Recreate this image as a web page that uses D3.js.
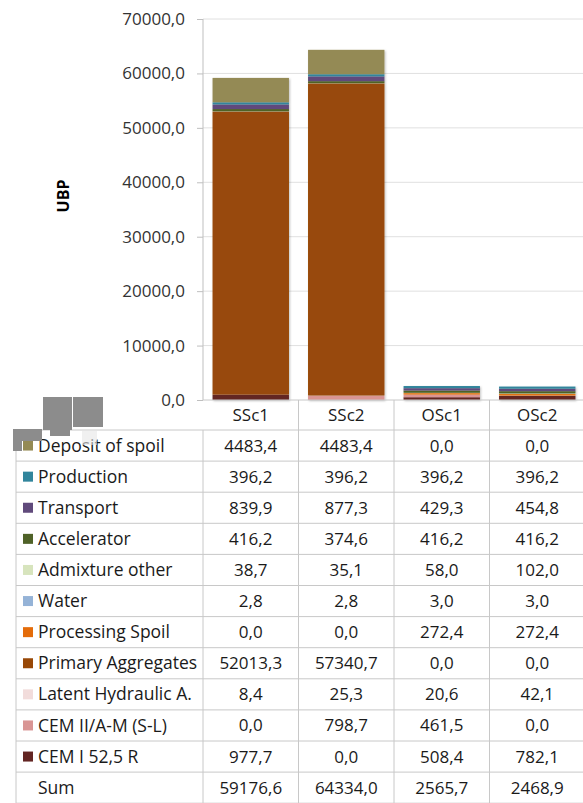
<!DOCTYPE html>
<html>
<head>
<meta charset="utf-8">
<script src="https://cdn.jsdelivr.net/npm/d3@7"></script>
<style>
  body { margin: 0; background: #fff; }
  svg { display: block; font-family: "Open Sans", sans-serif; }
</style>
</head>
<body>
<svg id="chart" width="583" height="803"></svg>
<script>
// scenarios along the x axis
const categories = ["SSc1", "SSc2", "OSc1", "OSc2"];

// series in table order (top of the table = top of the stack)
const seriesNames = [
  "Deposit of spoil", "Production", "Transport", "Accelerator",
  "Admixture other", "Water", "Processing Spoil", "Primary Aggregates",
  "Latent Hydraulic A.", "CEM II/A-M (S-L)", "CEM I 52,5 R"
];
const seriesColors = [
  "#948a54", "#31859c", "#604a7b", "#4f6228",
  "#d7e4bd", "#95b3d7", "#e46c0a", "#984807",
  "#f2dcdb", "#d99594", "#632523"
];

const depositOfSpoil   = [4483.4, 4483.4, 0.0, 0.0];
const production       = [396.2, 396.2, 396.2, 396.2];
const transport        = [839.9, 877.3, 429.3, 454.8];
const accelerator      = [416.2, 374.6, 416.2, 416.2];
const admixtureOther   = [38.7, 35.1, 58.0, 102.0];
const water            = [2.8, 2.8, 3.0, 3.0];
const processingSpoil  = [0.0, 0.0, 272.4, 272.4];
const primaryAggr      = [52013.3, 57340.7, 0.0, 0.0];
const latentHydraulic  = [8.4, 25.3, 20.6, 42.1];
const cem2             = [0.0, 798.7, 461.5, 0.0];
const cem1             = [977.7, 0.0, 508.4, 782.1];
const sums             = [59176.6, 64334.0, 2565.7, 2468.9];

const seriesValues = [
  depositOfSpoil, production, transport, accelerator, admixtureOther, water,
  processingSpoil, primaryAggr, latentHydraulic, cem2, cem1
];

const yTicks = [0, 10000, 20000, 30000, 40000, 50000, 60000, 70000];

const fmt = v => v.toFixed(1).replace(".", ",");

const svg = d3.select("#chart");

const x = d3.scaleBand()
  .domain(categories)
  .range([203, 585])
  .paddingInner(0.2)
  .paddingOuter(0.1);

const y = d3.scaleLinear()
  .domain([0, 70000])
  .range([400, 19]);

// gridlines
svg.append("g")
  .selectAll("line")
  .data(yTicks.slice(1))
  .join("line")
  .attr("x1", 203).attr("x2", 585)
  .attr("y1", d => y(d)).attr("y2", d => y(d))
  .attr("stroke", "#e0e0e0");

// build rows for d3.stack: bottom series first
const stackKeys = seriesNames.slice().reverse();
const rows = categories.map((c, i) => {
  const row = { category: c };
  seriesNames.forEach((s, j) => { row[s] = seriesValues[j][i]; });
  return row;
});
const stacked = d3.stack().keys(stackKeys)(rows);
const color = d3.scaleOrdinal().domain(seriesNames).range(seriesColors);

// soft shadow
const defs = svg.append("defs");
const filt = defs.append("filter").attr("id", "shadow")
  .attr("x", "-10%").attr("y", "-10%").attr("width", "130%").attr("height", "130%");
filt.append("feDropShadow")
  .attr("dx", 1).attr("dy", 1).attr("stdDeviation", 1.2)
  .attr("flood-color", "#000").attr("flood-opacity", 0.25);

const barsG = svg.append("g").attr("filter", "url(#shadow)");
stacked.forEach(layer => {
  barsG.append("g")
    .attr("fill", color(layer.key))
    .selectAll("rect")
    .data(layer)
    .join("rect")
    .attr("x", d => x(d.data.category))
    .attr("width", x.bandwidth())
    .attr("y", d => y(d[1]))
    .attr("height", d => Math.max(0, y(d[0]) - y(d[1])));
});

// y axis
const yAxis = d3.axisLeft(y)
  .tickValues(yTicks)
  .tickFormat(fmt)
  .tickSize(6)
  .tickPadding(12);
const yg = svg.append("g").attr("transform", "translate(203,0)").call(yAxis);
yg.select(".domain").attr("stroke", "#bfbfbf").attr("d", "M0,19V400");
yg.selectAll(".tick line").attr("stroke", "#bfbfbf");
yg.selectAll(".tick text")
  .attr("fill", "#333")
  .style("font-size", "17px")
  .style("font-family", "'Open Sans', sans-serif");

// axis title
svg.append("text")
  .attr("transform", "translate(69,196) rotate(-90)")
  .attr("text-anchor", "middle")
  .style("font-weight", "bold")
  .style("font-size", "16px")
  .attr("fill", "#000")
  .text("UBP");

// data table
const tableLeft = 16;
const headerTop = 400;
const bodyTop = 430;
const rowH = 31.1;
const gridColor = "#c8c8c8";
const textColor = "#1a1a1a";
const tableRows = seriesNames.map((s, j) => ({ name: s, values: seriesValues[j], color: seriesColors[j] }));
tableRows.push({ name: "Sum", values: sums, color: null });
const tableBottom = bodyTop + rowH * tableRows.length;

const tbl = svg.append("g");

// header separators and labels
tbl.append("line")
  .attr("x1", 203).attr("x2", 585)
  .attr("y1", headerTop).attr("y2", headerTop)
  .attr("stroke", gridColor);
categories.forEach((c, i) => {
  tbl.append("text")
    .attr("x", x(c) + x.bandwidth() / 2)
    .attr("y", (headerTop + bodyTop) / 2)
    .attr("dy", "0.35em")
    .attr("text-anchor", "middle")
    .style("font-size", "17px")
    .attr("fill", textColor)
    .text(c);
});

// horizontal lines
d3.range(tableRows.length + 1).forEach(k => {
  tbl.append("line")
    .attr("x1", tableLeft).attr("x2", 585)
    .attr("y1", bodyTop + k * rowH).attr("y2", bodyTop + k * rowH)
    .attr("stroke", gridColor);
});

// vertical lines
tbl.append("line")
  .attr("x1", tableLeft).attr("x2", tableLeft)
  .attr("y1", bodyTop).attr("y2", tableBottom)
  .attr("stroke", gridColor);
categories.forEach((c, i) => {
  const xv = 203 + i * x.step();
  tbl.append("line")
    .attr("x1", xv).attr("x2", xv)
    .attr("y1", i === 0 ? bodyTop : headerTop).attr("y2", tableBottom)
    .attr("stroke", gridColor);
});

tableRows.forEach((r, k) => {
  const cy = bodyTop + k * rowH + rowH / 2;
  if (r.color) {
    tbl.append("rect")
      .attr("x", 23).attr("y", cy - 5)
      .attr("width", 10).attr("height", 10)
      .attr("fill", r.color);
  }
  tbl.append("text")
    .attr("x", 38).attr("y", cy)
    .attr("dy", "0.35em")
    .style("font-size", "17.5px")
    .attr("fill", textColor)
    .text(r.name);
  r.values.forEach((v, i) => {
    tbl.append("text")
      .attr("x", x(categories[i]) + x.bandwidth() / 2)
      .attr("y", cy)
      .attr("dy", "0.35em")
      .attr("text-anchor", "middle")
      .style("font-size", "17px")
      .attr("fill", textColor)
      .text(fmt(v));
  });
});

// grey blocks over the corner of the table, as in the source image
const blocks = [
  { x: 43, y: 397, w: 29, h: 33, fill: "#8c8c8c" },
  { x: 50, y: 430, w: 20, h: 6, fill: "#8c8c8c" },
  { x: 73, y: 397, w: 30, h: 30, fill: "#8c8c8c" },
  { x: 13, y: 429, w: 29, h: 12, fill: "#8c8c8c" },
  { x: 13, y: 441, w: 9, h: 10, fill: "#8c8c8c" },
  { x: 82, y: 431, w: 15, h: 14, fill: "#e6e6e6" }
];
svg.append("g")
  .selectAll("rect")
  .data(blocks)
  .join("rect")
  .attr("x", d => d.x).attr("y", d => d.y)
  .attr("width", d => d.w).attr("height", d => d.h)
  .attr("fill", d => d.fill)
  .attr("opacity", d => d.fill === "#e6e6e6" ? 0.6 : 1);
</script>
</body>
</html>
